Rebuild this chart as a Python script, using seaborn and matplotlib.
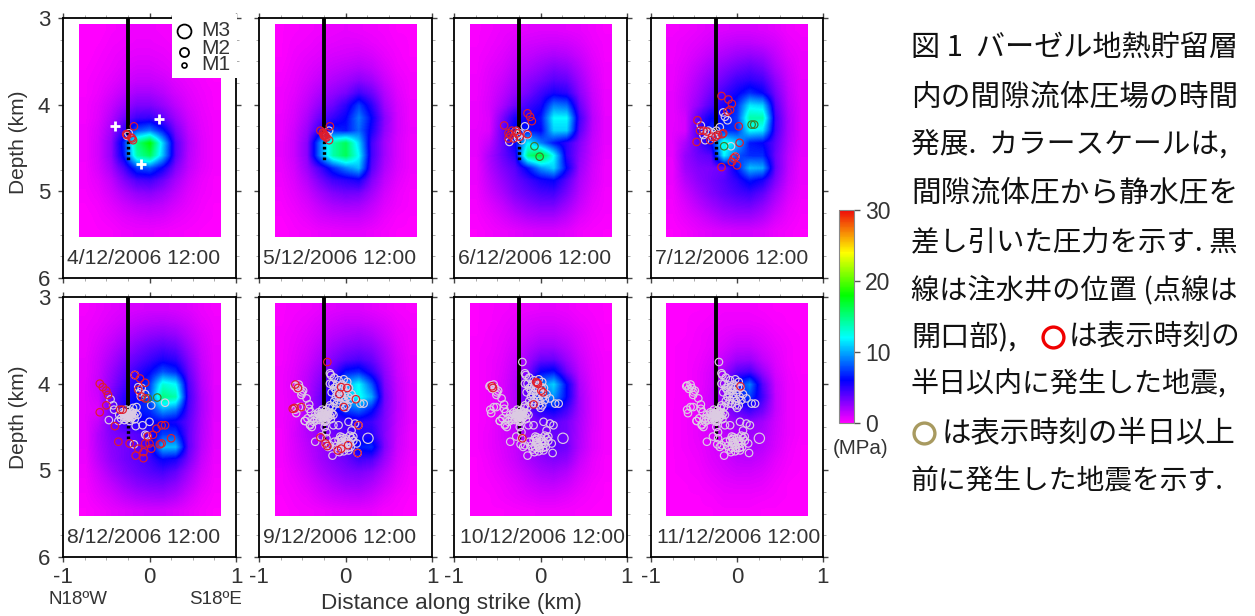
import matplotlib
matplotlib.use("Agg")
import numpy as np
import pandas as pd
import seaborn as sns
import matplotlib.pyplot as plt
from matplotlib.colors import LinearSegmentedColormap
from matplotlib.lines import Line2D
from matplotlib.patches import Rectangle

W, H = 1255, 616
sns.set_theme(style="white")
plt.rcParams["font.family"] = ["Liberation Sans", "DejaVu Sans"]
plt.rcParams["axes.unicode_minus"] = False

DATES = ["4/12/2006 12:00", "5/12/2006 12:00", "6/12/2006 12:00", "7/12/2006 12:00",
         "8/12/2006 12:00", "9/12/2006 12:00", "10/12/2006 12:00", "11/12/2006 12:00"]

# Pressure (MPa). Rows run from 3.08 to 5.53 km, columns from -0.82 to 0.82 km.
F04 = [[0,0,.2,.3,.4,.4,.3,.2,.1,0,0],[0,.1,.3,.4,.5,.5,.4,.3,.2,.1,0],[0,.2,.4,.6,.7,.7,.6,.4,.3,.1,0],
       [.1,.3,.5,.8,1,1,.8,.6,.4,.2,.1],[.2,.4,.7,1.1,1.4,1.4,1.2,.8,.5,.3,.1],[.2,.5,1,1.6,2.1,2.1,1.7,1.1,.7,.4,.2],
       [.3,.7,1.4,2.3,3.1,3.1,2.5,1.6,.9,.5,.2],[.3,.8,1.8,3.3,4.6,4.8,3.8,2.3,1.2,.6,.3],[.4,1,2.2,4.8,8,9,6.5,3.2,1.5,.7,.3],
       [.4,1.1,2.6,7,15,18,11,4,1.8,.8,.3],[.4,1.1,2.6,6.5,14,16,10.5,4,1.7,.8,.3],[.3,1,2.1,4.3,7.5,8,5.8,3,1.5,.7,.3],
       [.3,.7,1.5,2.9,4.2,4.5,3.5,2.1,1.1,.5,.2],[.2,.5,1.1,1.9,2.6,2.8,2.3,1.5,.8,.4,.2],[.1,.3,.7,1.2,1.6,1.7,1.5,1,.6,.3,.1],
       [0,.2,.4,.7,.9,1,.9,.6,.4,.2,.1],[0,.1,.2,.4,.5,.5,.4,.3,.2,.1,0]]
F05 = [[.1,.2,.3,.4,.5,.6,.5,.4,.3,.1,.1],[.1,.3,.4,.6,.7,.8,.8,.6,.4,.2,.1],[.1,.4,.6,.8,1,1.1,1.2,1,.6,.3,.1],
       [.2,.5,.8,1.1,1.4,1.6,1.8,1.5,.9,.4,.2],[.3,.6,1,1.5,1.9,2.3,2.8,2.3,1.3,.6,.3],[.4,.7,1.3,2,2.6,3.2,4.5,3.5,1.8,.8,.3],
       [.4,.9,1.6,2.7,3.5,5,7.5,5,2.3,1,.4],[.5,1,2,3.6,4.8,6,9,6,2.8,1.1,.4],[.5,1.2,2.4,5,7,6.5,8.5,5.5,2.6,1.1,.5],
       [.6,1.3,2.8,9,14,16,11,4.5,2.2,1,.4],[.6,1.3,2.8,9,14,16,12,4.5,2.2,1,.4],[.5,1.1,2.4,4.5,7,9,10.5,4,1.9,.9,.4],
       [.4,.9,1.8,3.2,4.5,5,5.5,3,1.5,.7,.3],[.3,.7,1.3,2.2,3,3.4,3.3,2.2,1.1,.5,.2],[.2,.5,.9,1.5,2,2.2,2.1,1.5,.8,.4,.2],
       [.1,.3,.6,1,1.2,1.3,1.3,1,.5,.2,.1],[0,.2,.3,.5,.6,.7,.7,.5,.3,.1,.1]]
F06 = [[.2,.3,.5,.6,.7,.8,.8,.7,.6,.4,.2],[.2,.4,.6,.9,1.1,1.2,1.3,1.2,.9,.5,.3],[.3,.5,.8,1.2,1.5,1.8,2,1.8,1.3,.7,.3],
       [.3,.7,1,1.6,2,2.5,3,2.7,1.8,.9,.4],[.4,.8,1.3,2,2.7,3.3,4,3.7,2.3,1.1,.4],[.4,.9,1.6,2.5,3.3,4.5,5.5,5,2.8,1.3,.5],
       [.5,1,2,3.4,4.5,5.5,9,8.5,3.6,1.5,.5],[.5,.9,3,5.5,5.5,6.5,12,12,4.5,1.7,.6],[.6,.9,3.5,6.5,6.5,6,11,11,4,1.6,.6],
       [.6,1.5,3.5,6,12,9,6.5,5,3,1.4,.6],[.6,2,3.5,5,15,17,12,5,2.7,1.3,.5],[.5,1.8,3,4,6.5,9.5,11,6,2.4,1.1,.4],
       [.5,1.5,2.5,3.5,4.5,5.5,6,4,2,1,.4],[.4,1.2,2,3,3.7,4.3,4.5,3.2,1.7,.8,.3],[.3,.8,1.4,2.2,2.8,3.2,3.2,2.3,1.3,.6,.3],
       [.2,.5,.9,1.4,1.8,2,2,1.5,.8,.4,.2],[.1,.3,.5,.7,.9,1,1,.8,.4,.2,.1]]
F07 = [[.3,.4,.6,.8,.9,1,1,.9,.7,.4,.3],[.4,.6,.8,1.1,1.4,1.6,1.6,1.4,1.1,.6,.4],[.4,.7,1.1,1.6,2,2.4,2.6,2.3,1.5,.8,.5],
       [.5,.9,1.5,2.2,2.8,3.4,3.8,3.3,2,1.1,.5],[.5,1.1,1.9,2.8,3.6,4.6,5,4.5,2.7,1.3,.6],[.6,1.3,2.2,3.4,4.6,5.7,7,6,3.3,1.5,.6],
       [.6,1.4,2.6,4.2,5.5,7,11.5,11,4,1.7,.7],[.6,1.1,4,6,6,7.5,14,14,4.5,1.9,.7],[.7,1,4.5,7,7,7,12,11.5,4.4,1.9,.7],
       [.7,2,4,6,13,11,6.5,6,3.8,1.8,.7],[.6,2.5,3.5,4,12,8,7,7,3.5,1.6,.6],[.5,2.3,3,3.2,3.5,6.5,10.5,10,3.6,1.5,.5],
       [.5,1.8,2.7,3.3,4,5,6.5,5.5,3,1.3,.5],[.4,1.3,2.2,3,3.7,4.3,4.7,3.8,2.2,1,.4],[.3,.9,1.6,2.3,2.9,3.3,3.4,2.7,1.6,.7,.3],
       [.2,.6,1,1.5,2,2.2,2.2,1.8,1,.5,.2],[.1,.3,.6,.8,1,1.1,1.1,.9,.5,.3,.1]]
F08 = [[.3,.5,.7,.9,1,1.1,1.1,1,.8,.5,.3],[.4,.6,.9,1.2,1.5,1.7,1.8,1.6,1.2,.7,.4],[.5,.8,1.2,1.7,2.2,2.6,2.8,2.5,1.7,1,.5],
       [.5,1,1.6,2.3,3,3.6,4,3.6,2.3,1.2,.6],[.6,1.2,2,3,3.8,4.6,5.4,4.9,3,1.4,.6],[.6,1.3,2.4,3.6,4.8,6,8,7,3.6,1.6,.7],
       [.7,1.4,2.7,4.2,5.5,7.5,13,12,4.2,1.8,.7],[.7,1.2,3.3,5,6,8,15,14,4.5,2,.8],[.7,.9,3.5,5.5,6.5,7,10,9,4.2,2,.8],
       [.7,1.5,3.3,4.5,5.5,6,6,5.5,3.8,1.9,.7],[.6,1.9,3,3.5,4,4.8,7.5,7.5,3.7,1.8,.7],[.6,1.8,2.8,3.3,3.8,4.8,10.5,10.5,3.8,1.7,.6],
       [.5,1.6,2.6,3.3,3.9,4.6,6,5.5,3.2,1.4,.5],[.4,1.2,2.1,2.9,3.5,4,4.4,3.7,2.3,1.1,.4],[.3,.9,1.5,2.2,2.8,3.1,3.2,2.7,1.7,.8,.3],
       [.2,.6,1,1.5,1.9,2.1,2.2,1.8,1.1,.5,.2],[.1,.3,.6,.8,1,1.1,1.1,.9,.6,.3,.1]]
F09 = [[.2,.3,.4,.6,.8,.9,.9,.7,.5,.3,.2],[.2,.4,.6,.9,1.2,1.4,1.4,1.2,.9,.5,.3],[.3,.5,.8,1.2,1.7,2,2.2,1.9,1.3,.7,.4],
       [.3,.6,1,1.6,2.3,2.8,3,2.7,1.8,.9,.4],[.3,.7,1.2,2,3,3.8,4.2,3.6,2.2,1.1,.5],[.4,.8,1.5,2.5,4,6.5,7,5,2.7,1.2,.5],
       [.4,.9,1.7,3,5.5,10,12,8,3.1,1.4,.6],[.4,.8,1.8,3.4,6,10,12.5,10,3.4,1.5,.6],[.4,.7,1.9,3.5,5.5,7.5,8.5,6.5,3.2,1.5,.6],
       [.4,.9,1.9,3,4,4.7,5,4.6,3,1.4,.6],[.3,1,1.8,2.5,3.2,4,5,5.2,2.9,1.3,.5],[.3,.9,1.6,2.3,3,4,6.5,7,3,1.2,.5],
       [.3,.8,1.4,2.2,2.9,3.5,4.5,4.2,2.4,1,.4],[.2,.6,1.1,1.8,2.4,2.9,3.1,2.7,1.7,.8,.3],[.2,.4,.8,1.3,1.8,2.2,2.3,1.9,1.2,.6,.2],
       [.1,.3,.5,.9,1.2,1.4,1.5,1.2,.7,.3,.1],[0,.2,.3,.4,.6,.7,.7,.6,.3,.2,0]]
F10 = [[.1,.2,.3,.4,.5,.6,.6,.5,.3,.2,.1],[.1,.2,.4,.6,.9,1,1,.8,.5,.3,.1],[.1,.3,.5,.8,1.2,1.5,1.5,1.2,.8,.4,.2],
       [.2,.3,.6,1,1.7,2.2,2.2,1.7,1,.5,.2],[.2,.4,.7,1.3,2.3,3.5,3.6,2.4,1.3,.6,.3],[.2,.4,.8,1.5,3,6,6.5,3.5,1.6,.7,.3],
       [.2,.4,.9,1.7,4,9,11,6,2,.8,.3],[.2,.4,.9,1.8,4,8,9.5,6,2.2,.9,.3],[.2,.4,1,1.8,3.5,5.5,6,4.5,2.2,.9,.3],
       [.2,.4,1,1.7,2.7,3.5,3.9,3.3,2,.9,.3],[.2,.5,1,1.5,2.3,3,3.6,3.3,1.9,.8,.3],[.2,.5,.9,1.4,2.1,3,3.8,3.4,1.8,.8,.3],
       [.1,.4,.8,1.3,2,2.6,3,2.7,1.4,.6,.2],[.1,.3,.6,1,1.5,2,2.2,1.8,1,.5,.2],[.1,.2,.4,.7,1.1,1.4,1.5,1.2,.7,.3,.1],
       [0,.1,.3,.5,.7,.9,.9,.7,.4,.2,.1],[0,.1,.1,.2,.3,.4,.4,.3,.2,.1,0]]
F11 = [[0,.1,.1,.2,.3,.3,.3,.2,.1,.1,0],[0,.1,.2,.3,.5,.5,.5,.4,.2,.1,0],[0,.1,.3,.5,.7,.9,.9,.7,.4,.2,.1],
       [.1,.2,.3,.6,1,1.4,1.4,1,.6,.3,.1],[.1,.2,.4,.8,1.5,2.3,2.4,1.5,.8,.3,.1],[.1,.2,.5,1,2.2,4,4.4,2.5,1,.4,.1],
       [.1,.2,.5,1.1,2.8,6.5,9,4,1.3,.5,.2],[.1,.2,.6,1.2,2.8,6,7.5,4.5,1.4,.5,.2],[.1,.3,.6,1.2,2.4,3.8,4.8,3.5,1.4,.5,.2],
       [.1,.3,.6,1.1,1.9,2.5,2.7,2.2,1.2,.5,.2],[.1,.3,.6,1,1.5,2,2.3,1.9,1.1,.5,.2],[.1,.3,.5,.9,1.3,1.8,2,1.7,1,.4,.1],
       [.1,.2,.4,.8,1.1,1.5,1.6,1.3,.7,.3,.1],[.1,.2,.3,.6,.9,1.1,1.1,.9,.5,.2,.1],[0,.1,.2,.4,.6,.7,.7,.6,.3,.1,0],
       [0,.1,.1,.2,.4,.4,.4,.3,.2,.1,0],[0,0,.1,.1,.2,.2,.2,.1,.1,0,0]]
FIELDS = [F04, F05, F06, F07, F08, F09, F10, F11]

# Well track
WELL_X = [-0.245, -0.245]
WELL_Y = [3.0, 4.33]
OPEN_X = [-0.245, -0.245]
OPEN_Y = [4.42, 4.65]

# Older events, grouped by cloud
TOP_X = [-.21]
TOP_Y = [3.75]
NE_X = [-.18,-.17,-.13,-.08,-.02,-.15,-.10,-.04,.02,-.16,-.11,-.06,0,.03,-.11,-.08,-.02,.02,-.18,.11,.17,.21,-.10,-.04,-.18,
        -.07,-.03,.01,-.13,-.09,-.05,.05,.07,-.13,-.01,.00,-.06,.04]
NE_Y = [3.88,3.90,3.93,3.96,3.95,4.00,4.02,4.01,3.98,4.10,4.08,4.08,4.10,4.15,4.15,4.19,4.25,4.25,4.25,4.17,4.23,4.23,4.23,4.15,4.00,
        4.04,4.05,4.04,4.05,4.12,4.12,4.19,4.12,4.20,4.20,4.28,4.23,4.05]
NW_X = [-.58,-.54,-.59,-.56,-.525,-.505,-.51,-.45,-.49,-.42,-.51,-.54,-.58,-.57,-.47,-.42,-.40,-.44,-.41,-.38]
NW_Y = [4.02,4.01,4.03,4.06,4.05,4.10,4.13,4.17,4.08,4.24,4.27,4.27,4.30,4.34,4.43,4.29,4.33,4.40,4.47,4.40]
BASE_X = [-.24,-.27,-.22,-.25,-.29,-.2,-.23,-.31,-.26,-.21,-.18,-.16,-.14,-.33,-.29,-.35,-.19,-.27,-.23,-.24,-.25,-.22,-.26,-.28,-.2,-.17,-.15,-.23,-.3,-.21]
BASE_Y = [4.35,4.34,4.36,4.38,4.37,4.33,4.31,4.33,4.40,4.40,4.37,4.34,4.36,4.40,4.42,4.36,4.28,4.30,4.43,4.37,4.35,4.34,4.36,4.39,4.38,4.41,4.27,4.38,4.35,4.36]
S_X = [.035,.11,.15,.07,.05,-.04,-.35,-.28,-.22,-.23,-.18,-.13,-.08,-.04,-.02,.015,.07,.13,-.09,-.02,.035,.14,-.15,-.2,-.06,0,-.07,.05,.09,
       -.47,-.39,-.41,-.37,-.14,-.08,-.24,-.22,-.24,-.33,
       -.03,-.05,.02,.06,-.11,-.06,.03,.09,-.01,-.05]
S_Y = [4.44,4.46,4.48,4.54,4.60,4.62,4.67,4.61,4.63,4.70,4.71,4.67,4.65,4.67,4.71,4.69,4.63,4.69,4.76,4.78,4.77,4.80,4.83,4.73,4.61,4.63,4.79,4.69,4.61,
       4.43,4.50,4.48,4.44,4.48,4.48,4.50,4.56,4.44,4.42,
       4.69,4.64,4.66,4.73,4.72,4.74,4.74,4.66,4.74,4.68]
BIG_X = [.26]
BIG_Y = [4.63]

# Grey events that were already present on the earlier days
G_X_04 = [-.26,-.24]
G_Y_04 = [4.36,4.33]
G_X_05 = [-.21,-.19]
G_Y_05 = [4.36,4.30]
G_X_06 = [-.18,-.29,-.27,-.22,-.15,-.36,-.26,-.24]
G_Y_06 = [4.25,4.31,4.35,4.41,4.35,4.43,4.38,4.33]
G_X_07 = [-.11,-.16,-.14,-.42,-.2,-.33,-.37,-.29,-.39,-.24,-.33,-.07,-.02,-.35,-.25,-.27]
G_Y_07 = [4.18,4.09,4.14,4.24,4.26,4.30,4.41,4.32,4.35,4.30,4.33,4.48,4.60,4.32,4.35,4.38]
G_X_08 = [-.45,-.42,-.41,-.47,-.36,-.16,-.08,-.18,-.03,-.05,0,.02,.18,-.17,-.13,-.11,-.05,-.09,-.10]
G_Y_08 = [4.18,4.25,4.30,4.42,4.43,4.49,4.48,4.70,4.60,4.59,4.44,4.25,4.22,3.90,4.04,4.10,4.12,4.05,4.15]

# Events of the last half day
R_X_04 = [-.18,-.26,-.27,-.21,-.20,-.19]
R_Y_04 = [4.25,4.35,4.34,4.38,4.39,4.41]
R_X_05 = [-.26,-.25,-.24,-.24,-.23,-.25,-.22,-.19,-.29,-.18,-.26]
R_Y_05 = [4.33,4.34,4.35,4.36,4.37,4.36,4.38,4.41,4.30,4.25,4.32]
R_X_06 = [-.15,-.12,-.10,-.42,-.37,-.33,-.27,-.37,-.31,-.24,-.35,-.28,-.15]
R_Y_06 = [4.10,4.14,4.19,4.24,4.33,4.30,4.33,4.39,4.39,4.37,4.35,4.30,4.34]
R_X_07 = [-.18,-.10,-.06,-.08,-.11,-.46,-.43,-.35,-.39,-.47,-.31,-.25,-.22,-.17,-.16,.02,.03,-.04,-.02,-.06,0,-.18,-.29]
R_Y_07 = [3.90,3.94,3.99,4.06,4.08,4.18,4.30,4.31,4.30,4.43,4.41,4.37,4.35,4.34,4.33,4.25,4.44,4.62,4.60,4.66,4.70,4.72,4.37]
R_X_08 = [-.575,-.54,-.50,-.48,-.17,-.11,-.05,-.13,-.09,-.05,-.34,-.31,-.575,-.40,-.36,-.23,-.16,-.07,-.05,0,.08,.14,.18,.04,.12,.14,.25,.02,-.07,-.02,-.13,-.50]
R_Y_08 = [4.00,4.04,4.08,4.13,3.90,3.94,3.99,4.07,4.15,4.17,4.30,4.30,4.33,4.49,4.67,4.69,4.83,4.79,4.69,4.69,4.52,4.48,4.48,4.59,4.70,4.69,4.63,4.75,4.86,4.61,4.75,4.25]
R_X_09 = [-.21,-.58,-.55,-.59,-.61,-.05,.02,-.07,.12,-.02,.15,-.29,-.23,-.21,-.09,-.05,.03,.14,-.51]
R_Y_09 = [3.75,4.01,4.05,4.28,4.29,4.04,4.05,4.12,4.18,4.27,4.48,4.62,4.69,4.72,4.77,4.75,4.71,4.80,4.27]
R_X_10 = [-.56,-.55,-.05,-.03,.01,.03,-.08,-.21,-.04]
R_Y_10 = [4.03,4.05,3.98,4.00,4.08,4.10,4.24,4.63,3.99]
R_X_11 = [.04]
R_Y_11 = [4.03]

# Events drawn dark over the green core
O_X_06 = [-.07,-.01]
O_Y_06 = [4.48,4.60]
O_X_07 = [-.15,.17,.20]
O_Y_07 = [4.48,4.23,4.23]
O_X_08 = [.09,-.02]
O_Y_08 = [4.16,4.17]

# White crosses of the first panel
CROSS_X = [-.40,.11,-.10]
CROSS_Y = [4.246,4.165,4.69]

TEXT_LINES = ["図 1  バーゼル地熱貯留層", "内の間隙流体圧場の時間", "発展.  カラースケールは,", "間隙流体圧から静水圧を",
              "差し引いた圧力を示す. 黒", "線は注水井の位置 (点線は"]
TEXT_SIZES = [21, 21.4, 20.7, 21.4, 20.4, 20.3]
TEXT_MID = "半日以内に発生した地震,"
TEXT_LAST = "前に発生した地震を示す."

cmap = LinearSegmentedColormap.from_list("rb", ["#ff00ff", "#0000ff", "#00ffff", "#00ff00", "#ffff00", "#ee0a0a"], N=256)

BOXES = [(63, 18, 236, 278), (259, 18, 432, 278), (454, 18, 627, 278), (651, 18, 823, 278),
         (63, 297, 236, 557), (259, 297, 432, 557), (454, 297, 627, 557), (651, 297, 823, 557)]
GRAY_TXT = "#333333"
GREY = "#dccbe2"
RED = "#e01c2c"
DARK = "#3f7a2a"


def axes_px(fig, l, t, r, b):
    return fig.add_axes([l / W, 1 - b / H, (r - l) / W, (b - t) / H])


def rings(ax, xs, ys, color, s=29, lw=0.85):
    if len(xs):
        frame = pd.DataFrame({"x": xs, "y": ys})
        sns.scatterplot(data=frame, x="x", y="y", ax=ax, s=s, facecolors="none", edgecolor=color,
                        linewidth=lw, legend=False, zorder=4, clip_on=True)
    ax.set_xlabel("")
    ax.set_ylabel("")


fig = plt.figure(figsize=(W / 100, H / 100), dpi=100, facecolor="white")
G_ALL_X = NE_X + NW_X + BASE_X + S_X
G_ALL_Y = NE_Y + NW_Y + BASE_Y + S_Y
GREYS = [(G_X_04, G_Y_04), (G_X_05, G_Y_05), (G_X_06, G_Y_06), (G_X_07, G_Y_07),
         (BASE_X + G_X_08, BASE_Y + G_Y_08), (G_ALL_X, G_ALL_Y), (TOP_X + G_ALL_X, TOP_Y + G_ALL_Y), (TOP_X + G_ALL_X, TOP_Y + G_ALL_Y)]
REDS = [(R_X_04, R_Y_04), (R_X_05, R_Y_05), (R_X_06, R_Y_06), (R_X_07, R_Y_07),
        (R_X_08, R_Y_08), (R_X_09, R_Y_09), (R_X_10, R_Y_10), (R_X_11, R_Y_11)]
DARKS = [([], []), ([], []), (O_X_06, O_Y_06), (O_X_07, O_Y_07), (O_X_08, O_Y_08), ([], []), ([], []), ([], [])]

image = None
for i, box in enumerate(BOXES):
    ax = axes_px(fig, *box)
    image = ax.imshow(np.array(FIELDS[i]), extent=(-.82, .82, 5.53, 3.08), cmap=cmap, vmin=0, vmax=30,
                      aspect="auto", interpolation="bilinear", zorder=1)
    sns.lineplot(x=OPEN_X, y=OPEN_Y, ax=ax, color="black", linewidth=2.4, linestyle=(0, (0.8, 0.8)), zorder=2,
                 estimator=None, sort=False, legend=False)
    sns.lineplot(x=WELL_X, y=WELL_Y, ax=ax, color="black", linewidth=2.8, zorder=3,
                 estimator=None, sort=False, legend=False)
    rings(ax, *GREYS[i], GREY)
    if i >= 5:
        rings(ax, BIG_X, BIG_Y, GREY, s=55)
    rings(ax, *DARKS[i], DARK)
    rings(ax, *REDS[i], RED)
    if i == 0:
        sns.scatterplot(x=CROSS_X, y=CROSS_Y, ax=ax, marker="+", s=60, color="white", linewidth=2,
                        legend=False, zorder=5)
    ax.set_xlim(-1, 1)
    ax.set_ylim(6, 3)
    ax.set_xticks([-1, 0, 1])
    ax.set_yticks([3, 4, 5, 6])
    ax.set_xticks(np.arange(-1, 1.01, .25), minor=True)
    ax.set_yticks(np.arange(3, 6.01, .25), minor=True)
    ax.grid(False)
    row2 = i >= 4
    ax.tick_params(which="major", direction="out", length=3.6, width=1, color="#444444", top=True, right=True,
                   bottom=True, left=True, labelsize=16, labelcolor=GRAY_TXT,
                   labelleft=i in (0, 4), labelbottom=row2)
    ax.tick_params(axis="x", which="major", pad=3.5)
    ax.tick_params(axis="y", which="major", pad=5.5)
    ax.tick_params(which="minor", direction="out", length=2.5, width=.7, color="#aaaaaa", top=True, right=True,
                   bottom=True, left=True)
    if i in (0, 4):
        ax.set_yticklabels(["3", "4", "5", "6"])
    if row2:
        ax.set_xticklabels(["-1", "0", "1"])
    for sp in ax.spines.values():
        sp.set_visible(True)
        sp.set_color("black")
        sp.set_linewidth(1.3)
    off = 6 if i >= 6 else 4
    ax.text(-1 + off * 2 / (box[2] - box[0]), 5.78, DATES[i], fontsize=15.2, color=GRAY_TXT, ha="left", va="center", zorder=6)

# Legend box of the first panel
fig.add_artist(Rectangle((172 / W, 1 - 78 / H), 65 / W, 64 / H, transform=fig.transFigure, fc="white", ec="none", zorder=1))
for y, ms, lw in [(31, 10, 1.3), (52, 6.5, 1.3), (65, 3.6, 1.2)]:
    fig.add_artist(Line2D([184 / W], [1 - y / H], transform=fig.transFigure, marker="o", mfc="white", mec="black",
                          ms=ms, mew=lw, linestyle="none", zorder=2))
for y, label in [(31, "M3"), (48, "M2"), (65, "M1")]:
    fig.text(201 / W, 1 - y / H, label, fontsize=15, color=GRAY_TXT, va="center", ha="left", zorder=3)

# Colour bar
cax = axes_px(fig, 839, 210, 854, 423)
cb = fig.colorbar(image, cax=cax, ticks=[0, 10, 20, 30])
cb.ax.tick_params(length=4, width=1, color="#555555", labelsize=16.5, labelcolor=GRAY_TXT, pad=4, right=True)
cb.outline.set_edgecolor("#888888")
cb.outline.set_linewidth(0.8)
fig.text(861 / W, 1 - 449 / H, "(MPa)", fontsize=14.8, color=GRAY_TXT, ha="center", va="center")

# Axis titles
fig.text(19 / W, 1 - 142 / H, "Depth (km)", rotation=90, fontsize=15, color=GRAY_TXT, ha="center", va="center")
fig.text(19 / W, 1 - 417 / H, "Depth (km)", rotation=90, fontsize=15, color=GRAY_TXT, ha="center", va="center")
fig.text(451 / W, 1 - 604 / H, "Distance along strike (km)", fontsize=16.2, color=GRAY_TXT, ha="center", va="center")
fig.text(78 / W, 1 - 600 / H, "N18ºW", fontsize=13.5, color=GRAY_TXT, ha="center", va="center")
fig.text(216 / W, 1 - 600 / H, "S18ºE", fontsize=13.5, color=GRAY_TXT, ha="center", va="center")

# Caption
JP = ["Noto Sans CJK JP", "DejaVu Sans"]
LINE_Y = [48, 97, 145, 193, 242, 290, 337, 385, 433, 482]


def caption(x, y, s, size=21):
    fig.text(x / W, 1 - y / H, s, fontsize=size, family=JP, color="#111111", ha="left", va="center")


for y, s, size in zip(LINE_Y, TEXT_LINES, TEXT_SIZES):
    caption(911, y, s, size)
caption(911, LINE_Y[6], "開口部),", 21)
caption(1069, LINE_Y[6], "は表示時刻の", 20.6)
caption(911, LINE_Y[7], TEXT_MID, 20.2)
caption(942, LINE_Y[8], "は表示時刻の半日以上", 21.2)
caption(911, LINE_Y[9], TEXT_LAST, 20)
for x, y, color in [(1053, LINE_Y[6], "#f00000"), (924, LINE_Y[8], "#a89a60")]:
    fig.add_artist(Line2D([x / W], [1 - y / H], transform=fig.transFigure, marker="o", mfc="none", mec=color,
                          ms=15, mew=2.4, linestyle="none"))

fig.savefig("out.png", dpi=100)
